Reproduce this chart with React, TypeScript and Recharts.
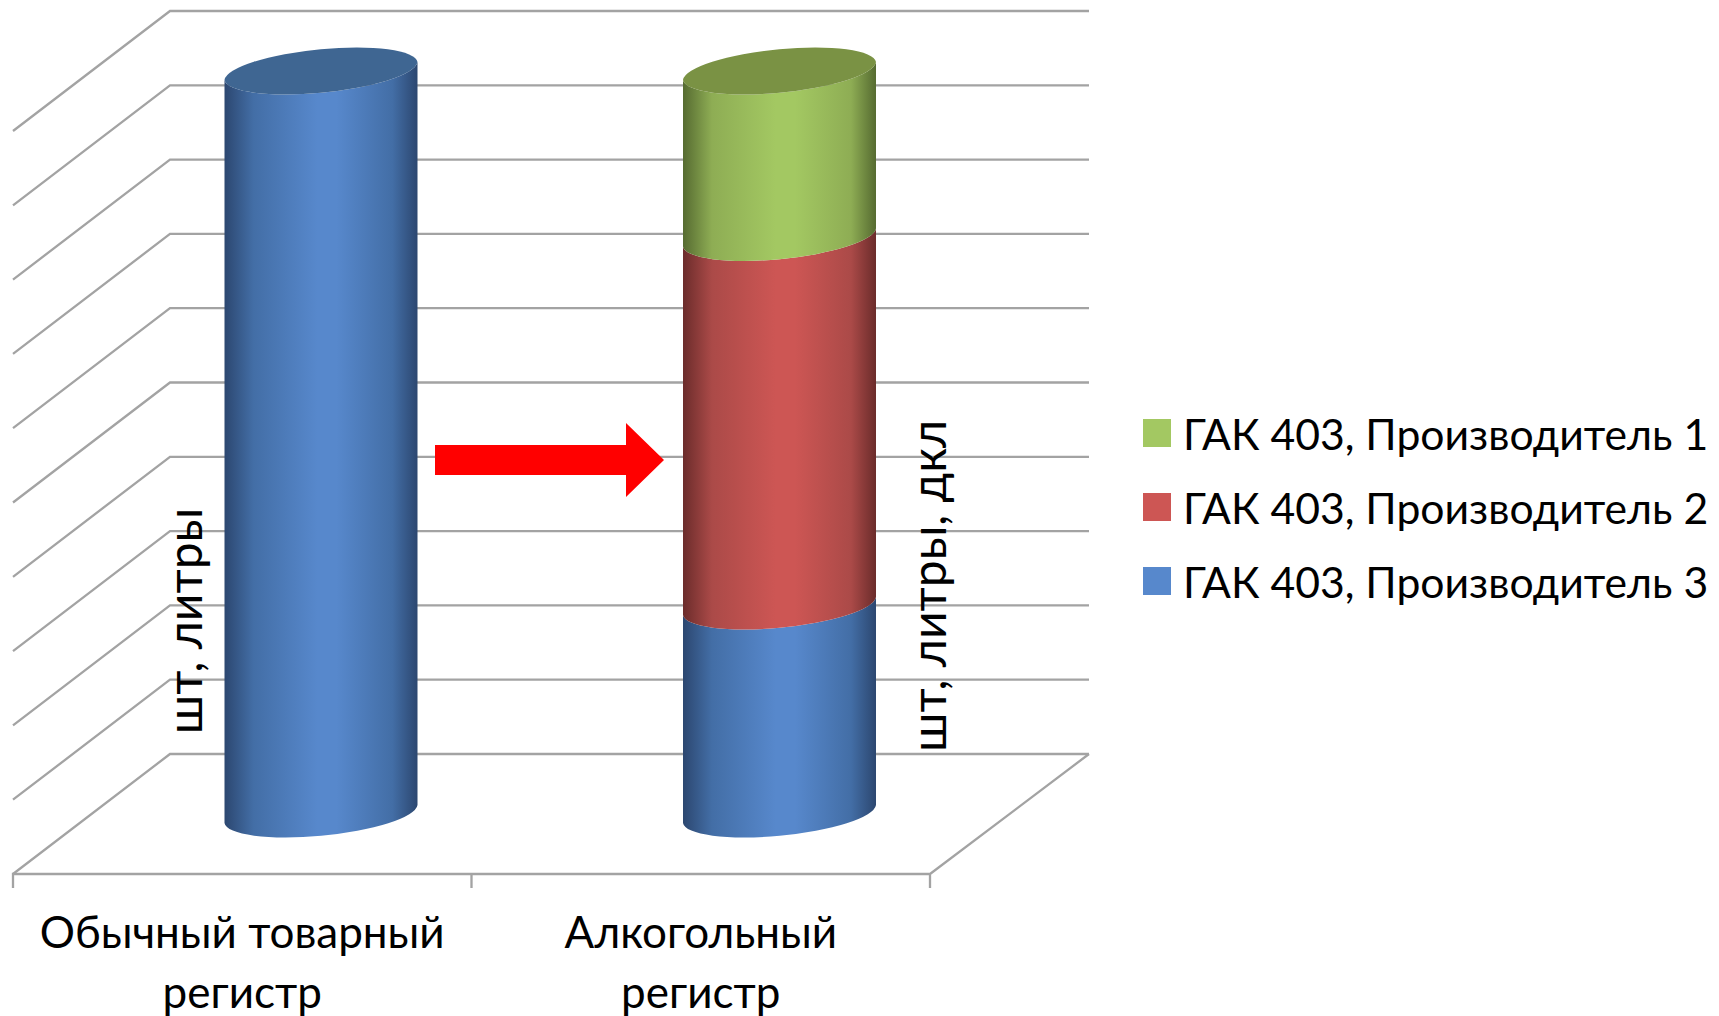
import { Bar, BarChart, CartesianGrid, Legend, XAxis, YAxis } from "recharts";

const categories = ["Обычный товарный регистр", "Алкогольный регистр"];
const producer3 = [100, 28];
const producer2 = [0, 49.6];
const producer1 = [0, 22.4];
const valueTicks = [0, 10, 20, 30, 40, 50, 60, 70, 80, 90, 100];

const data = categories.map((name, i) => ({
  name,
  producer3: producer3[i],
  producer2: producer2[i],
  producer1: producer1[i],
}));

const FONT = "Lato, 'Open Sans', sans-serif";
const GRID = "#a3a3a3";
// how far the back wall sits behind the front plane, bars stand half way
const DEPTH_X = 157;
const DEPTH_Y = 120;
const TILT = 9;
const LEGEND_WIDTH = 576;

const stackOrder = ["producer3", "producer2", "producer1"];

const palette: Record<string, { id: string; edge: string; mid: string; light: string; top: string }> = {
  producer3: { id: "body-blue", edge: "#2c4770", mid: "#436ea6", light: "#5788cc", top: "#3f6692" },
  producer2: { id: "body-red", edge: "#6b2c2b", mid: "#ab4a48", light: "#cd5654", top: "#98403e" },
  producer1: { id: "body-green", edge: "#566b31", mid: "#8ead54", light: "#a3c862", top: "#7a9244" },
};

function Cylinder(props: any) {
  const { x, y, width, height, payload, dataKey } = props;
  if (!payload[dataKey]) return null;
  const colors = palette[dataKey];
  const left = x + DEPTH_X / 2;
  const right = left + width;
  const top = y - DEPTH_Y / 2;
  const bottom = top + height;
  const rx = width / 2 + 0.5;
  const arc = `A ${rx} 22.5 -5.6 0`;
  const body = [
    `M ${left} ${top + TILT}`,
    `L ${left} ${bottom + TILT}`,
    `${arc} 0 ${right} ${bottom - TILT}`,
    `L ${right} ${top - TILT}`,
    `${arc} 1 ${left} ${top + TILT}`,
    "Z",
  ].join(" ");
  const highest = [...stackOrder].reverse().find((k) => payload[k] > 0);
  return (
    <g>
      <path d={body} fill={`url(#${colors.id})`} />
      {highest === dataKey && (
        <path
          d={`M ${left} ${top + TILT} ${arc} 1 ${right} ${top - TILT} ${arc} 1 ${left} ${top + TILT} Z`}
          fill={colors.top}
        />
      )}
    </g>
  );
}

// back wall line plus the side wall diagonal for one value tick
function WallLine(props: any) {
  const { x1, x2, y1, index } = props;
  return (
    <g key={`wall-${index}`} stroke={GRID} strokeWidth={2.3} fill="none">
      <path d={`M ${x1} ${y1} L ${x1 + DEPTH_X} ${y1 - DEPTH_Y} L ${x2 + DEPTH_X + 2} ${y1 - DEPTH_Y}`} />
      {index === 0 && (
        <path
          d={[
            `M ${x1} ${y1 + 14} L ${x1} ${y1} L ${x2} ${y1} L ${x2} ${y1 + 14}`,
            `M ${(x1 + x2) / 2} ${y1} L ${(x1 + x2) / 2} ${y1 + 14}`,
            `M ${x2} ${y1} L ${x2 + DEPTH_X + 2} ${y1 - DEPTH_Y}`,
          ].join(" ")}
        />
      )}
    </g>
  );
}

function CategoryTick({ x, y, payload }: any) {
  const words = String(payload.value).split(" ");
  const last = words.pop();
  return (
    <text x={x} y={y} textAnchor="middle" fontFamily={FONT} fontSize={44} fill="#000">
      <tspan x={x} dy={66}>{words.join(" ")}</tspan>
      <tspan x={x} dy={60}>{last}</tspan>
    </text>
  );
}

function ProducerLegend({ payload }: any) {
  return (
    <div style={{ fontFamily: FONT, fontSize: 42.7, color: "#000" }}>
      {(payload || []).map((item: any) => (
        <div key={item.value} style={{ display: "flex", alignItems: "center", height: 74, whiteSpace: "nowrap" }}>
          <span style={{ width: 28, height: 28, background: palette[item.dataKey].light, marginRight: 12 }} />
          {item.value}
        </div>
      ))}
    </div>
  );
}

export default function App() {
  return (
    <div style={{ position: "absolute", left: 0, top: 0, width: 1719, height: 1016, overflow: "hidden", background: "#fff" }}>
      <BarChart
        width={1719}
        height={1016}
        data={data}
        margin={{ top: 131, right: 789 - LEGEND_WIDTH, bottom: 0, left: 13 }}
      >
        <defs>
          {Object.values(palette).map((c) => (
            <linearGradient key={c.id} id={c.id} x1="0" y1="0" x2="1" y2="0">
              <stop offset="0%" stopColor={c.edge} />
              <stop offset="15%" stopColor={c.mid} />
              <stop offset="48%" stopColor={c.light} />
              <stop offset="58%" stopColor={c.light} />
              <stop offset="87%" stopColor={c.mid} />
              <stop offset="100%" stopColor={c.edge} />
            </linearGradient>
          ))}
        </defs>
        <CartesianGrid horizontal={WallLine} vertical={false} />
        <XAxis
          dataKey="name"
          height={142}
          interval={0}
          axisLine={false}
          tickLine={false}
          tick={CategoryTick}
        />
        <YAxis hide domain={[0, 100]} ticks={valueTicks} />
        <Legend
          layout="vertical"
          align="right"
          width={LEGEND_WIDTH}
          content={ProducerLegend}
          wrapperStyle={{ left: 1143, top: 396, width: LEGEND_WIDTH }}
        />
        <Bar dataKey="producer3" name="ГАК 403, Производитель 3" stackId="a" barSize={193} fill={palette.producer3.light} shape={Cylinder} isAnimationActive={false} />
        <Bar dataKey="producer2" name="ГАК 403, Производитель 2" stackId="a" barSize={193} fill={palette.producer2.light} shape={Cylinder} isAnimationActive={false} />
        <Bar dataKey="producer1" name="ГАК 403, Производитель 1" stackId="a" barSize={193} fill={palette.producer1.light} shape={Cylinder} isAnimationActive={false} />
        <path d="M 435 445 L 626 445 L 626 423 L 664 460 L 626 497 L 626 475 L 435 475 Z" fill="#ff0000" />
        <text transform="translate(202 621) rotate(-90)" textAnchor="middle" fontFamily={FONT} fontSize={48} fill="#000">шт, литры</text>
        <text transform="translate(946 586) rotate(-90)" textAnchor="middle" fontFamily={FONT} fontSize={48} fill="#000">шт, литры, дкл</text>
      </BarChart>
    </div>
  );
}
